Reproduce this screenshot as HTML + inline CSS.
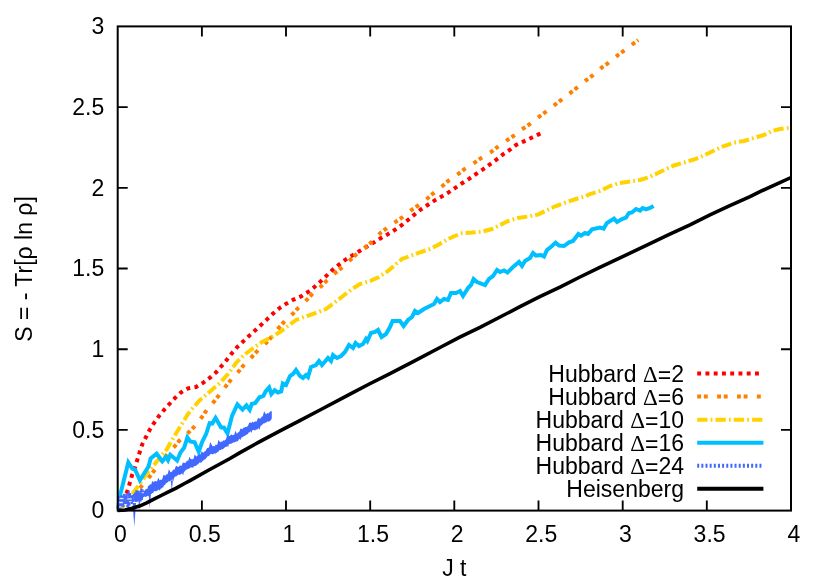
<!DOCTYPE html>
<html>
<head>
<meta charset="utf-8">
<title>Entanglement entropy S = -Tr[rho ln rho] vs J t</title>
<style>
html,body{margin:0;padding:0;background:#ffffff;}
body{width:830px;height:580px;overflow:hidden;font-family:"Liberation Sans",sans-serif;}
svg{display:block;will-change:transform;}
</style>
</head>
<body>
<svg width="830" height="580" viewBox="0 0 830 580">
<rect x="0" y="0" width="830" height="580" fill="#ffffff"/>
<g fill="none" stroke-linejoin="miter" stroke-linecap="butt">
<path stroke="#ff0000" stroke-width="4.0" d="M118.52,507.97L120.26,504.48M122.21,500.58L123.95,497.09M126.21,493.36L127.10,491.90L127.74,489.81M129.00,485.63L129.50,484.00L130.10,481.89M131.30,477.70L131.90,475.60L132.51,474.01M134.04,469.95L134.90,467.70L135.33,466.30M136.61,462.15L137.30,459.90L137.75,458.44M139.02,454.30L139.70,452.10L140.20,450.60M141.57,446.49L142.40,444.00L142.97,442.89M144.96,439.03L146.00,437.00L146.73,435.58M148.71,431.72L149.60,430.00L150.63,428.36M152.94,424.69L154.00,423.00L155.10,421.47M157.62,417.94L159.00,416.00L159.96,414.85M162.73,411.52L164.00,410.00L165.27,408.59M168.17,405.36L169.40,404.00L170.79,402.51M173.75,399.34L175.00,398.00L176.50,396.60M179.67,393.64L181.00,392.40L182.79,391.38M186.55,389.23L188.00,388.40L190.18,388.02M194.45,387.27L196.00,387.00L197.98,385.82M201.71,383.61L203.40,382.60L204.92,381.45M208.38,378.83L210.00,377.60L211.39,376.39M214.65,373.53L216.40,372.00L217.42,370.83M220.26,367.55L221.60,366.00L222.77,364.60M225.55,361.26L226.60,360.00L227.97,358.24M230.64,354.82L231.60,353.60L233.11,351.83M235.94,348.54L237.00,347.30L238.63,345.76M241.77,342.77L243.00,341.60L244.59,340.11M247.76,337.15L249.00,336.00L250.63,334.54M253.85,331.64L255.00,330.60L256.70,329.01M259.87,326.05L261.00,325.00L262.71,323.40M265.88,320.45L267.00,319.40L268.69,317.77M271.80,314.76L273.00,313.60L274.69,312.17M277.99,309.36L279.60,308.00L281.09,307.04M284.73,304.68L286.40,303.60L288.05,302.68M291.84,300.58L293.60,299.60L295.31,298.86M299.29,297.14L301.00,296.40L302.71,295.33M306.38,293.02L308.00,292.00L309.55,290.79M312.97,288.12L314.40,287.00L315.93,285.62M319.14,282.71L320.60,281.40L321.98,280.07M325.10,277.05L326.60,275.60L327.89,274.36M331.00,271.35L332.40,270.00L333.91,268.77M337.28,266.01L339.00,264.60L340.33,263.59M343.80,260.96L345.60,259.60L346.99,258.74M350.69,256.45L352.40,255.40L354.01,254.42M357.73,252.15L359.60,251.00L361.06,250.13M364.80,247.91L367.00,246.60L368.14,245.91M371.87,243.65L373.60,242.60L375.19,241.62M378.89,239.33L380.40,238.40L382.25,237.37M386.06,235.26L387.60,234.40L389.40,233.27M393.09,230.95L394.60,230.00L396.35,228.82M399.95,226.38L401.40,225.40L403.06,224.04M406.43,221.28L408.00,220.00L409.43,218.80M412.76,215.99L414.40,214.60L415.76,213.51M419.14,210.77L420.60,209.60L422.29,208.49M425.93,206.10L427.60,205.00L429.19,203.97M432.85,201.61L434.40,200.60L436.19,199.61M439.99,197.49L441.60,196.60L443.36,195.54M447.09,193.30L448.60,192.40L450.36,191.19M453.95,188.73L455.60,187.60L457.17,186.54M460.78,184.10L462.40,183.00L464.04,181.97M467.72,179.65L469.40,178.60L470.97,177.51M474.54,175.02L476.00,174.00L477.77,172.84M481.41,170.45L483.00,169.40L484.61,168.23M488.13,165.67L489.60,164.60L491.27,163.37M494.78,160.79L496.40,159.60L497.88,158.44M501.30,155.74L503.00,154.40L504.44,153.44M508.06,151.03L509.60,150.00L511.21,148.74M514.64,146.06L516.00,145.00L517.97,144.09M521.93,142.28L523.40,141.60L525.45,140.63M529.39,138.76L531.00,138.00L532.91,137.10M536.84,135.23L538.60,134.40L540.34,133.53"/>
<path stroke="#ff8000" stroke-width="4.0" d="M121.19,506.85L124.23,504.41M126.34,502.65L129.09,499.88M135.60,493.18L138.14,490.22M139.93,488.13L140.90,487.00L142.45,485.16M148.48,478.01L150.00,476.20L150.92,474.98M152.55,472.80L153.60,471.40L154.95,469.76M160.86,462.60L163.00,460.00L163.30,459.59M164.88,457.36L167.13,454.21M173.51,447.49L175.00,446.00L176.10,444.62M177.81,442.49L179.00,441.00L180.46,439.69M187.36,433.48L189.00,432.00L190.18,430.82M192.11,428.89L193.60,427.40L194.71,426.03M200.54,418.81L202.00,417.00L202.86,415.71M204.37,413.44L205.60,411.60L206.67,410.33M212.64,403.22L214.00,401.60L215.10,400.23M216.80,398.10L218.00,396.60L219.18,395.04M224.77,387.63L226.00,386.00L227.14,384.57M228.85,382.44L230.00,381.00L231.36,379.49M237.57,372.59L239.00,371.00L240.08,369.65M241.79,367.51L243.00,366.00L244.35,364.62M250.85,357.99L252.40,356.40L253.51,355.17M255.34,353.14L257.00,351.30L258.02,350.36M264.84,344.07L266.00,343.00L267.56,341.31M269.42,339.31L271.00,337.60L271.96,336.39M277.76,329.15L279.00,327.60L280.25,326.18M282.06,324.14L283.60,322.40L284.73,321.34M291.51,314.99L293.00,313.60L294.24,312.25M296.09,310.24L297.60,308.60L298.78,307.47M305.49,301.05L307.00,299.60L308.21,298.29M310.06,296.28L311.60,294.60L312.80,293.55M319.79,287.45L321.00,286.40L322.61,284.79M324.54,282.86L326.00,281.40L327.33,280.18M334.17,273.91L335.60,272.60L337.11,271.39M339.25,269.68L340.60,268.60L342.20,267.16M349.12,260.94L350.60,259.60L351.99,258.33M354.00,256.47L355.60,255.00L356.93,253.93M364.16,248.08L366.00,246.60L367.18,245.65M369.31,243.93L371.20,242.40L372.21,241.36M378.72,234.71L380.40,233.00L381.57,232.10M383.74,230.43L385.60,229.00L386.85,228.11M394.43,222.72L396.00,221.60L397.63,220.52M399.90,219.00L401.40,218.00L403.03,216.71M410.32,210.93L412.00,209.60L413.45,208.63M415.72,207.12L417.40,206.00L418.89,204.88M426.31,199.27L428.00,198.00L429.33,196.83M431.38,195.02L433.00,193.60L434.35,192.52M441.61,186.71L443.00,185.60L444.55,184.18M446.56,182.32L448.00,181.00L449.58,179.91M457.24,174.62L459.00,173.40L460.36,172.32M462.49,170.61L464.00,169.40L465.65,168.35M473.49,163.36L475.00,162.40L476.70,161.18M478.93,159.59L480.60,158.40L482.16,157.44M490.07,152.55L491.60,151.60L493.21,150.28M495.33,148.55L496.00,148.00L498.47,146.27M506.09,140.94L508.00,139.60L509.29,138.74M511.56,137.22L513.40,136.00L514.73,134.99M522.16,129.39L524.00,128.00L525.31,127.13M527.59,125.61L529.40,124.40L530.74,123.35M538.06,117.61L539.60,116.40L541.14,115.26M543.34,113.63L545.00,112.40L546.44,111.29M553.81,105.62L555.40,104.40L556.89,103.25M559.06,101.59L560.60,100.40L562.13,99.22M569.51,93.55L571.00,92.40L572.56,91.15M574.70,89.44L576.00,88.40L577.72,87.01M584.96,81.17L586.40,80.00L588.05,78.82M590.27,77.23L592.00,76.00L593.33,74.85M600.39,68.79L602.00,67.40L603.43,66.39M605.67,64.82L607.40,63.60L608.78,62.49M616.03,56.67L617.60,55.40L619.10,54.29M621.29,52.66L623.00,51.40L624.41,50.35M631.85,44.76L633.40,43.60L634.96,42.43M637.16,40.78L638.20,40.00"/>
<path stroke="#ffd200" stroke-width="4.0" d="M120.02,507.60L125.00,503.00L127.17,500.30M129.18,497.81L130.31,496.40M132.22,494.03L134.90,490.70L138.31,485.79M140.13,483.16L141.16,481.68M142.90,479.18L145.80,475.00L148.98,471.08M150.97,468.63L152.10,467.25M154.00,464.91L156.60,461.70L160.40,457.06M162.41,454.61L163.53,453.23M165.44,450.90L167.00,449.00L170.73,442.29M172.28,439.54L173.22,438.03M174.79,435.46L180.00,427.00L180.10,426.83M181.76,424.14L182.69,422.62M184.27,420.05L188.00,414.00L189.89,411.64M191.86,409.17L192.00,409.00L193.03,407.83M195.01,405.56L199.00,401.00L202.09,398.35M204.50,396.29L205.85,395.13M208.12,393.15L214.00,388.00L215.78,386.52M218.21,384.49L219.57,383.36M221.63,381.16L228.00,374.00L228.32,373.56M230.18,371.00L231.23,369.56M233.00,367.12L236.00,363.00L239.56,359.44M241.80,357.20L243.05,355.95M245.34,353.99L252.00,349.00L253.48,347.96M256.07,346.15L257.53,345.13M260.00,343.40L262.00,342.00L268.88,338.56M271.63,337.02L273.16,336.10M275.75,334.55L280.00,332.00L284.13,328.90M286.67,327.00L288.00,326.00L288.09,325.93M290.50,324.12L296.00,320.00L299.15,318.82M302.14,317.70L303.83,317.06M306.71,316.08L314.00,313.60L316.37,312.69M319.36,311.55L321.04,310.90M323.88,309.81L326.00,309.00L332.38,304.22M334.92,302.28L336.34,301.18M338.74,299.31L343.00,296.00L346.83,293.02M349.35,291.06L350.77,289.96M353.26,288.21L360.00,284.00L362.20,283.34M365.26,282.42L366.98,281.91M369.90,281.03L370.00,281.00L379.00,277.00L379.13,276.91M381.76,275.16L383.23,274.18M385.74,272.51L388.00,271.00L393.56,266.14M395.94,264.06L396.00,264.00L397.30,262.92M399.61,260.99L402.00,259.00L408.55,256.54M411.51,255.46L413.18,254.85M416.01,253.84L420.00,252.40L425.56,250.51M428.55,249.49L430.00,249.00L430.22,248.89M432.91,247.55L438.00,245.00L441.79,242.73M444.49,241.10L446.01,240.19M448.63,238.72L456.00,235.50L457.93,234.76M460.88,233.63L462.00,233.20L462.57,233.17M465.58,232.99L472.00,232.60L475.66,232.23M478.80,231.92L480.56,231.74M483.51,231.21L492.00,229.00L493.20,228.40M496.02,226.99L497.61,226.20M500.30,224.85L508.00,221.00L509.52,220.54M512.57,219.63L514.29,219.11M517.19,218.24L518.00,218.00L527.25,216.61M530.38,216.05L532.14,215.71M535.13,215.15L538.00,214.60L544.50,211.35M547.37,209.97L549.00,209.22M551.76,207.95L556.00,206.00L561.20,204.13M564.20,203.05L565.88,202.44M568.75,201.46L576.00,199.00L578.44,198.27M581.49,197.35L583.20,196.84M586.10,195.95L590.00,194.00L595.59,192.32M598.64,191.41L600.00,191.00L600.33,190.83M603.05,189.48L610.00,186.00L612.32,185.30M615.37,184.39L617.09,183.87M619.99,183.00L620.00,183.00L630.00,181.60L630.09,181.59M633.24,181.08L635.00,180.80M638.00,180.32L640.00,180.00L647.76,177.67M650.64,176.38L652.26,175.64M655.00,174.38L658.00,173.00L664.10,169.95M666.95,168.58L668.58,167.87M671.34,166.66L674.00,165.50L680.92,163.42M683.95,162.51L684.00,162.50L685.65,162.00M688.54,161.14L694.00,159.50L698.11,157.86M701.05,156.68L702.70,156.02M705.44,154.78L714.00,150.50L714.51,150.27M717.39,148.97L719.01,148.24M721.76,147.01L724.00,146.00L731.26,143.53M734.27,142.56L736.02,142.28M739.00,141.80L744.00,141.00L748.95,139.51M752.01,138.60L753.73,138.08M756.65,137.21L764.00,135.00L766.29,133.86M769.14,132.43L770.75,131.62M773.60,130.60L780.00,129.00L783.62,128.55M786.80,128.15L788.00,128.00L788.59,127.95"/>
<polyline stroke="#00bfff" stroke-width="4.0" points="118.2,509.0 119.8,496.0 121.4,490.0 128.3,462.4 132.3,468.6 135.2,469.8 139.9,480.2 148.5,466.5 150.7,458.5 156.6,453.7 162.3,461.3 165.8,457.0 168.0,460.3 170.3,454.8 177.1,460.5 180.5,452.5 184.1,447.8 187.4,437.4 190.2,441.4 194.6,442.3 198.7,451.8 202.2,441.8 206.2,433.8 209.6,423.2 212.3,423.6 215.6,418.0 221.0,427.3 224.0,427.7 227.5,433.5 232.0,416.0 237.4,404.4 242.5,409.6 246.4,405.3 249.7,409.8 251.9,403.8 255.1,403.1 259.5,397.3 263.4,395.9 265.6,391.5 269.2,387.4 271.4,394.1 274.7,390.3 277.9,392.6 281.2,391.5 282.8,383.5 286.0,385.0 290.0,376.0 293.0,374.0 296.0,370.0 300.0,376.0 303.0,378.0 306.0,375.0 308.0,377.0 311.0,367.0 316.0,365.0 319.0,361.0 322.0,365.0 328.0,358.0 331.0,361.0 333.0,355.0 337.0,358.0 341.0,356.0 345.0,352.0 349.0,345.0 353.0,348.0 355.6,343.0 359.0,346.0 363.0,344.0 366.0,339.0 367.4,341.0 371.0,333.0 375.0,332.0 378.0,330.0 381.6,337.0 386.0,334.0 390.0,327.0 392.6,321.0 400.0,321.0 403.6,326.0 408.0,320.0 412.0,317.0 415.0,311.0 418.0,313.0 424.0,309.0 434.0,304.0 437.0,299.0 440.0,302.0 444.0,299.0 448.0,300.0 451.0,293.0 456.0,293.0 460.0,291.0 463.0,296.0 468.0,288.0 471.0,285.0 473.6,279.0 477.0,282.0 485.0,285.0 489.0,279.0 493.0,276.0 497.0,270.0 500.0,272.0 504.0,270.4 507.6,272.4 513.0,267.0 519.0,262.0 522.0,266.0 525.0,261.0 530.0,258.0 533.0,253.0 536.0,255.6 541.0,255.0 544.0,256.6 547.0,250.0 552.0,246.0 555.6,242.6 559.0,245.6 564.0,246.0 569.0,242.4 573.0,241.0 578.4,234.0 581.0,235.6 585.0,233.0 588.0,234.0 592.0,229.4 600.0,227.6 603.6,228.6 607.0,223.0 614.0,218.6 617.0,222.0 622.0,219.0 626.0,217.6 629.0,213.0 632.0,212.4 636.0,209.0 640.0,210.6 642.6,208.0 646.0,209.4 650.0,208.0 653.6,206.0"/>
<polyline stroke="#4169ff" stroke-width="2.0" stroke-dasharray="6 1.6" stroke-linejoin="miter" points="118.3,507.7 118.9,496.3 119.5,509.9 120.2,496.4 120.8,507.3 121.4,495.4 122.0,505.3 122.6,495.5 123.3,507.3 123.9,493.7 124.5,504.1 125.1,496.0 125.7,503.8 126.4,492.9 127.0,506.6 127.6,496.7 128.2,507.8 128.8,491.4 129.5,505.5 130.1,493.0 130.7,502.5 131.3,495.8 131.9,503.9 132.6,495.2 133.2,501.8 133.8,494.0 134.4,500.5 135.0,492.5 135.7,502.0 136.3,490.4 136.9,501.6 137.5,491.1 138.1,500.8 138.8,490.7 139.4,500.0 140.0,492.0 140.6,501.5 141.2,488.7 141.9,500.0 142.5,489.4 143.1,497.1 143.7,490.7 144.3,496.1 145.0,490.7 145.6,496.9 146.2,489.0 146.8,496.3 147.4,488.5 148.1,495.7 148.7,486.5 149.3,492.0 149.9,487.9 150.5,493.7 151.2,486.5 151.8,493.0"/>
<path d="M119.6,498.5H123.6" stroke="#ffffff" stroke-opacity="0.85" stroke-width="1.3"/>
<path d="M127.2,498.9H131.6" stroke="#ffffff" stroke-opacity="0.85" stroke-width="1.3"/>
<path d="M119.2,502.5H122.9" stroke="#ffffff" stroke-opacity="0.85" stroke-width="1.5"/>
<path d="M133.7,503.9H136.6" stroke="#ffffff" stroke-opacity="0.85" stroke-width="1.3"/>
<path d="M119.2,506.8H121.2" stroke="#ffffff" stroke-opacity="0.85" stroke-width="1.2"/>
<path d="M141.7,492.7H143.9" stroke="#ffffff" stroke-opacity="0.85" stroke-width="1.0"/>
<path d="M124.5,504.6H127.0" stroke="#ffffff" stroke-opacity="0.85" stroke-width="1.1"/>
<path d="M129.0,501.6H131.5" stroke="#ffffff" stroke-opacity="0.85" stroke-width="1.0"/>
<polygon fill="#4169ff" stroke="none" points="132.6,503.0 136.0,503.0 134.3,526.8"/>
<polygon fill="#4169ff" stroke="none" points="138.3,499.0 140.3,499.0 139.3,510.6"/>
<polygon fill="#4169ff" stroke="none" points="148.6,493.0 151.0,493.0 149.8,508.6"/>
<polygon fill="#4169ff" stroke="none" points="170.7,480.5 172.9,480.5 171.8,490.8"/>
<polygon fill="#4169ff" stroke="none" points="148.0,485.8 148.8,485.9 149.6,484.8 150.4,484.2 151.2,484.5 152.3,480.9 153.9,482.3 154.7,481.0 155.5,480.9 156.3,481.5 157.1,481.2 158.2,477.7 159.8,480.5 160.6,479.6 161.4,479.9 162.2,479.2 163.5,474.8 165.4,475.7 166.2,474.3 167.0,474.5 167.8,473.8 168.9,469.3 170.5,472.3 171.3,472.0 172.1,471.4 172.9,469.9 173.7,469.5 174.5,469.7 176.0,465.8 178.2,467.0 179.0,466.5 179.8,465.6 180.6,465.6 181.4,466.0 182.9,462.5 185.2,462.9 186.0,462.2 186.8,460.7 187.6,460.7 188.4,460.4 189.4,456.7 191.0,459.5 191.8,459.0 192.6,459.2 193.4,458.9 194.7,454.4 196.5,456.8 197.3,455.3 198.1,455.4 198.9,454.8 199.7,454.0 200.5,454.5 201.6,451.2 203.3,452.9 204.1,451.5 204.9,451.5 205.7,450.7 206.5,449.1 207.3,447.9 208.1,448.1 208.9,447.4 210.3,442.0 212.5,446.2 213.3,446.0 214.1,446.3 214.9,446.1 215.7,444.5 216.5,445.0 217.3,444.5 218.5,439.8 220.2,442.4 221.0,441.6 221.8,441.6 222.6,441.4 223.4,440.3 224.2,440.8 225.0,440.0 225.8,439.5 227.3,435.0 229.5,436.1 230.3,435.6 231.1,434.3 231.9,435.1 232.7,435.2 233.5,434.8 234.3,434.8 235.3,430.8 236.9,433.7 237.7,433.0 238.5,432.0 239.3,431.8 240.5,428.5 242.4,429.2 243.2,427.7 244.0,427.8 244.8,427.3 245.6,427.0 246.4,427.1 247.2,426.6 248.0,425.7 249.4,422.5 251.7,422.8 252.5,421.6 253.3,422.7 254.1,421.7 254.9,421.8 255.7,421.3 256.5,421.8 258.0,417.9 260.3,418.8 261.1,417.6 261.9,416.5 262.7,416.5 264.1,411.2 266.1,414.5 266.9,413.5 267.7,413.0 268.5,413.4 269.3,412.4 270.1,411.6 270.9,411.2 271.7,411.3 271.8,412.0 271.8,418.2 271.3,419.6 270.4,420.7 269.5,421.3 268.6,421.7 267.7,421.3 266.8,422.3 265.9,422.6 265.0,423.1 264.1,423.5 263.2,423.4 262.3,424.7 261.4,425.4 260.5,426.0 259.6,429.9 258.7,427.8 257.8,429.3 256.9,429.5 256.0,429.5 255.1,430.4 254.2,430.2 253.3,430.1 252.4,430.0 251.5,432.9 250.6,430.9 249.7,432.5 248.8,432.2 247.9,434.0 247.0,434.6 246.1,434.8 245.2,435.8 244.3,436.1 243.4,436.5 242.5,437.2 241.6,437.3 240.7,439.9 239.8,438.8 238.9,439.6 238.0,441.1 237.1,441.4 236.2,441.4 235.3,441.9 234.4,442.5 233.5,442.3 232.6,443.0 231.7,443.5 230.8,443.7 229.9,444.0 229.0,444.1 228.1,447.2 227.2,445.7 226.3,447.1 225.4,447.1 224.5,447.8 223.6,448.4 222.7,449.6 221.8,449.0 220.9,450.0 220.0,450.1 219.1,450.5 218.2,452.1 217.3,452.2 216.4,453.1 215.5,453.8 214.6,453.3 213.7,453.7 212.8,454.6 211.9,453.9 211.0,453.8 210.1,454.5 209.2,455.7 208.3,456.3 207.4,456.5 206.5,457.7 205.6,458.9 204.7,459.6 203.8,460.1 202.9,460.9 202.0,461.4 201.1,463.2 200.2,462.3 199.3,462.8 198.4,464.1 197.5,464.4 196.6,465.2 195.7,465.9 194.8,466.1 193.9,466.3 193.0,468.3 192.1,467.1 191.2,467.7 190.3,467.5 189.4,468.4 188.5,468.8 187.6,469.2 186.7,469.4 185.8,470.0 184.9,471.5 184.0,471.8 183.1,475.5 182.2,473.2 181.3,473.9 180.4,474.5 179.5,475.1 178.6,474.6 177.7,475.0 176.8,476.2 175.9,476.3 175.0,476.7 174.1,477.8 173.2,481.5 172.3,479.2 171.4,480.3 170.5,480.7 169.6,481.5 168.7,481.3 167.8,482.1 166.9,483.0 166.0,483.0 165.1,484.9 164.2,485.1 163.3,487.2 162.4,487.6 161.5,488.6 160.6,488.8 159.7,490.8 158.8,489.5 157.9,490.3 157.0,490.7 156.1,491.2 155.2,491.2 154.3,491.0 153.4,492.4 152.5,493.1 151.6,493.6 150.7,494.6 149.8,495.2 148.9,496.0 148.0,496.4"/>
<polyline stroke="#000000" stroke-width="3.55" points="117.7,510.6 125.0,510.0 132.2,508.3 139.5,506.0 146.7,502.8 153.9,499.2 161.2,495.5 168.4,491.9 175.7,488.3 185.0,483.3 190.0,480.6 209.3,469.8 230.0,458.5 240.0,452.6 259.3,441.9 280.0,430.9 299.3,420.9 320.0,410.0 350.0,394.1 369.3,384.0 390.0,373.7 414.1,361.1 440.0,347.5 459.3,337.4 480.0,327.4 520.0,306.7 539.3,296.8 560.0,287.2 580.0,277.0 599.3,267.6 620.0,257.9 650.0,243.6 669.3,234.4 690.0,224.8 710.0,214.8 729.3,205.9 750.0,196.7 760.0,191.6 779.3,182.8 791.0,177.5"/>
</g>
<g fill="none" stroke="#000000" stroke-width="2">
<rect x="117.7" y="26.4" width="673.3" height="484.2"/>
<path stroke-width="1.85" d="M201.9,510.6v-10.0M201.9,26.4v10.0M286.0,510.6v-10.0M286.0,26.4v10.0M370.2,510.6v-10.0M370.2,26.4v10.0M454.3,510.6v-10.0M454.3,26.4v10.0M538.5,510.6v-10.0M538.5,26.4v10.0M622.7,510.6v-10.0M622.7,26.4v10.0M706.8,510.6v-10.0M706.8,26.4v10.0M117.7,429.9h10.0M791.0,429.9h-10.0M117.7,349.2h10.0M791.0,349.2h-10.0M117.7,268.5h10.0M791.0,268.5h-10.0M117.7,187.8h10.0M791.0,187.8h-10.0M117.7,107.1h10.0M791.0,107.1h-10.0"/>
</g>
<g font-family="'Liberation Sans', sans-serif" font-size="23.0" fill="#000000">
<text x="120.5" y="541.5" text-anchor="middle">0</text>
<text x="204.7" y="541.5" text-anchor="middle">0.5</text>
<text x="288.8" y="541.5" text-anchor="middle">1</text>
<text x="373.0" y="541.5" text-anchor="middle">1.5</text>
<text x="457.1" y="541.5" text-anchor="middle">2</text>
<text x="541.3" y="541.5" text-anchor="middle">2.5</text>
<text x="625.5" y="541.5" text-anchor="middle">3</text>
<text x="709.6" y="541.5" text-anchor="middle">3.5</text>
<text x="793.8" y="541.5" text-anchor="middle">4</text>
<text x="104.2" y="518.3" text-anchor="end">0</text>
<text x="104.2" y="437.6" text-anchor="end">0.5</text>
<text x="104.2" y="356.9" text-anchor="end">1</text>
<text x="104.2" y="276.2" text-anchor="end">1.5</text>
<text x="104.2" y="195.5" text-anchor="end">2</text>
<text x="104.2" y="114.8" text-anchor="end">2.5</text>
<text x="104.2" y="34.1" text-anchor="end">3</text>
<text x="454.3" y="576.3" text-anchor="middle">J t</text>
<text transform="translate(31.5,269) rotate(-90)" text-anchor="middle">S = - Tr[&#961; ln &#961;]</text>
<text x="684" y="381.9" text-anchor="end">Hubbard <tspan font-family="'Liberation Serif', serif">&#916;</tspan><tspan dy="1">=</tspan><tspan dy="-1">2</tspan></text>
<text x="684" y="404.9" text-anchor="end">Hubbard <tspan font-family="'Liberation Serif', serif">&#916;</tspan><tspan dy="1">=</tspan><tspan dy="-1">6</tspan></text>
<text x="684" y="428.0" text-anchor="end">Hubbard <tspan font-family="'Liberation Serif', serif">&#916;</tspan><tspan dy="1">=</tspan><tspan dy="-1">10</tspan></text>
<text x="684" y="451.0" text-anchor="end">Hubbard <tspan font-family="'Liberation Serif', serif">&#916;</tspan><tspan dy="1">=</tspan><tspan dy="-1">16</tspan></text>
<text x="684" y="474.1" text-anchor="end">Hubbard <tspan font-family="'Liberation Serif', serif">&#916;</tspan><tspan dy="1">=</tspan><tspan dy="-1">24</tspan></text>
<text x="684" y="497.0" text-anchor="end">Heisenberg</text>
</g>
<g fill="none" stroke-linecap="butt">
<path d="M697.2,373.6H762.0" stroke="#ff0000" stroke-width="4.0" stroke-dasharray="3.9 4.36"/>
<path d="M697.2,396.6H763.4" stroke="#ff8000" stroke-width="4.0" stroke-dasharray="3.9 2.75 3.9 9.35"/>
<path d="M697.2,419.7H763.4" stroke="#ffd200" stroke-width="4.0" stroke-dasharray="10.25 3.2 1.8 3.05"/>
<path d="M697.2,442.7H763.4" stroke="#00bfff" stroke-width="4.0"/>
<path d="M697.2,465.8H763.4" stroke="#4169ff" stroke-width="4.0" stroke-dasharray="2 2.15"/>
<path d="M697.2,488.7H763.4" stroke="#000000" stroke-width="3.85"/>
</g>
</svg>
</body>
</html>
